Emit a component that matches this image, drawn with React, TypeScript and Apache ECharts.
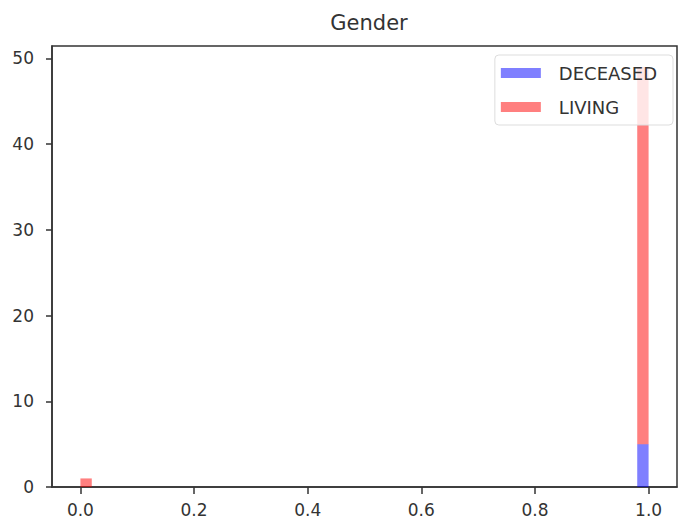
import React, { useEffect, useRef } from "react";
import * as echarts from "echarts";

const titleText = "Gender";
const seriesNames = ["DECEASED", "LIVING"];
const binStarts = [0.0, 0.98];
const binWidth = 0.02;
const deceasedCounts = [0, 5];
const livingCounts = [1, 44];
const xTicks = [0, 0.2, 0.4, 0.6, 0.8, 1.0];
const yTicks = [0, 10, 20, 30, 40, 50];
const colors = ["rgba(0,0,255,0.5)", "rgba(255,0,0,0.5)"];

export default function App() {
  const ref = useRef<HTMLDivElement>(null);
  useEffect(() => {
    if (!ref.current) return;
    const chart = echarts.init(ref.current, null, { renderer: "svg" });
    const deceasedData = binStarts.map((s, i) => [s, s + binWidth, 0, deceasedCounts[i]]);
    const livingData = binStarts.map((s, i) => [
      s,
      s + binWidth,
      deceasedCounts[i],
      deceasedCounts[i] + livingCounts[i],
    ]);
    const renderItem = (color: string) => (params: any, api: any) => {
      const x0 = api.value(0);
      const x1 = api.value(1);
      const y0 = api.value(2);
      const y1 = api.value(3);
      if (y1 <= y0) return null;
      const p0 = api.coord([x0, y1]);
      const p1 = api.coord([x1, y0]);
      return {
        type: "rect",
        shape: { x: p0[0], y: p0[1], width: p1[0] - p0[0], height: p1[1] - p0[1] },
        style: { fill: color },
      };
    };
    const font = "DejaVu Sans";
    chart.setOption({
      animation: false,
      title: {
        text: titleText,
        left: 364,
        textAlign: "center",
        top: 7,
        textStyle: { fontFamily: font, fontSize: 21, fontWeight: "normal", color: "#333" },
      },
      legend: {
        orient: "vertical",
        right: 5,
        top: 55,
        padding: [8, 16, 8, 6],
        itemWidth: 40,
        itemHeight: 10,
        itemGap: 14,
        icon: "rect",
        borderColor: "#ddd",
        borderWidth: 1,
        borderRadius: 4,
        backgroundColor: "rgba(255,255,255,0.8)",
        textStyle: { fontFamily: font, fontSize: 18, color: "#333", lineHeight: 20, padding: [0, 0, 0, 13] },
        data: [
          { name: seriesNames[0], itemStyle: { color: colors[0] } },
          { name: seriesNames[1], itemStyle: { color: colors[1] } },
        ],
      },
      grid: {
        left: 52,
        right: 1,
        top: 46,
        bottom: 44,
        show: true,
        borderColor: "#333",
        borderWidth: 1.5,
      },
      xAxis: {
        type: "value",
        min: -0.05,
        max: 1.05,
        splitLine: { show: false },
        axisLine: { show: true, onZero: false, lineStyle: { color: "#333", width: 1.5 } },
        axisTick: { show: true, customValues: xTicks, length: 7, lineStyle: { color: "#333", width: 1.5 } },
        axisLabel: {
          customValues: xTicks,
          margin: 14,
          fontFamily: font,
          fontSize: 17,
          color: "#333",
          formatter: (v: number) => v.toFixed(1),
        },
      },
      yAxis: {
        type: "value",
        min: 0,
        max: 51.45,
        splitLine: { show: false },
        axisLine: { show: true, onZero: false, lineStyle: { color: "#333", width: 1.5 } },
        axisTick: { show: true, customValues: yTicks, length: 6, lineStyle: { color: "#333", width: 1.5 } },
        axisLabel: {
          customValues: yTicks,
          margin: 18,
          fontFamily: font,
          fontSize: 17,
          color: "#333",
          formatter: (v: number) => String(v),
        },
      },
      series: [
        {
          name: seriesNames[0],
          type: "custom",
          renderItem: renderItem(colors[0]),
          encode: { x: [0, 1], y: [2, 3] },
          itemStyle: { color: colors[0] },
          data: deceasedData,
        },
        {
          name: seriesNames[1],
          type: "custom",
          renderItem: renderItem(colors[1]),
          encode: { x: [0, 1], y: [2, 3] },
          itemStyle: { color: colors[1] },
          data: livingData,
        },
      ],
    });
    return () => chart.dispose();
  }, []);
  return <div ref={ref} style={{ width: 678, height: 531, position: "absolute", left: 0, top: 0, background: "#fff" }} />;
}
